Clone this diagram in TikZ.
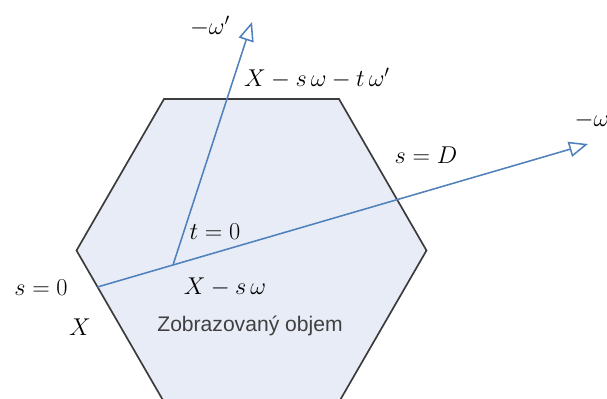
\documentclass[tikz,border=0pt]{standalone}
\usepackage{fontspec}
\newfontfamily\volfont{Liberation Sans}
\usetikzlibrary{arrows.meta}
\definecolor{rayblue}{RGB}{79,129,189}
\definecolor{volfill}{RGB}{232,236,246}
\definecolor{edgegray}{RGB}{60,60,60}
\tikzset{
  ray/.style={rayblue, line width=1.1pt,
    -{Triangle[open, fill=white, length=13.5pt, width=11pt]}},
  mlabel/.style={font=\fontsize{17}{20}\selectfont, inner sep=0pt},
}
\begin{document}
\begin{tikzpicture}[x=0.025cm, y=-0.025cm]
  \useasboundingbox (0,0) rectangle (607,399);
  \clip (0,0) rectangle (607,399);
  % zobrazovany objem (hexagon)
  \coordinate (tl) at (164,99);
  \coordinate (tr) at (339,99);
  \coordinate (r)  at (426.5,250.5);
  \coordinate (br) at (339,402);
  \coordinate (bl) at (164,402);
  \coordinate (l)  at (76.5,250.5);
  \draw[edgegray, line width=1.2pt, fill=volfill]
    (tl) -- (tr) -- (r) -- (br) -- (bl) -- (l) -- cycle;
  \node[font=\volfont\fontsize{15}{18}\selectfont, text=black!75, inner sep=0pt]
    (vol) at (250,326) {Zobrazovaný objem};
  % paprsky
  \coordinate (X)      at (97.5,287);
  \coordinate (Xs)     at (173,265);
  \coordinate (omega)  at (588,144);
  \coordinate (omegap) at (252,22);
  \draw[ray] (X) -- (omega);
  \draw[ray] (Xs) -- (omegap);
  % popisky
  \node[mlabel] (lomegap) at (210,26)  {$-\omega'$};
  \node[mlabel] (lXst)    at (317,78)  {$X - s\,\omega - t\,\omega'$};
  \node[mlabel] (lsD)     at (426,155) {$s = D$};
  \node[mlabel] (lomega)  at (592,120) {$-\omega$};
  \node[mlabel] (lt0)     at (215,232) {$t = 0$};
  \node[mlabel] (ls0)     at (41,288)  {$s = 0$};
  \node[mlabel] (lXs)     at (225,287) {$X - s\,\omega$};
  \node[mlabel] (lX)      at (80,327)  {$X$};
\end{tikzpicture}
\end{document}
